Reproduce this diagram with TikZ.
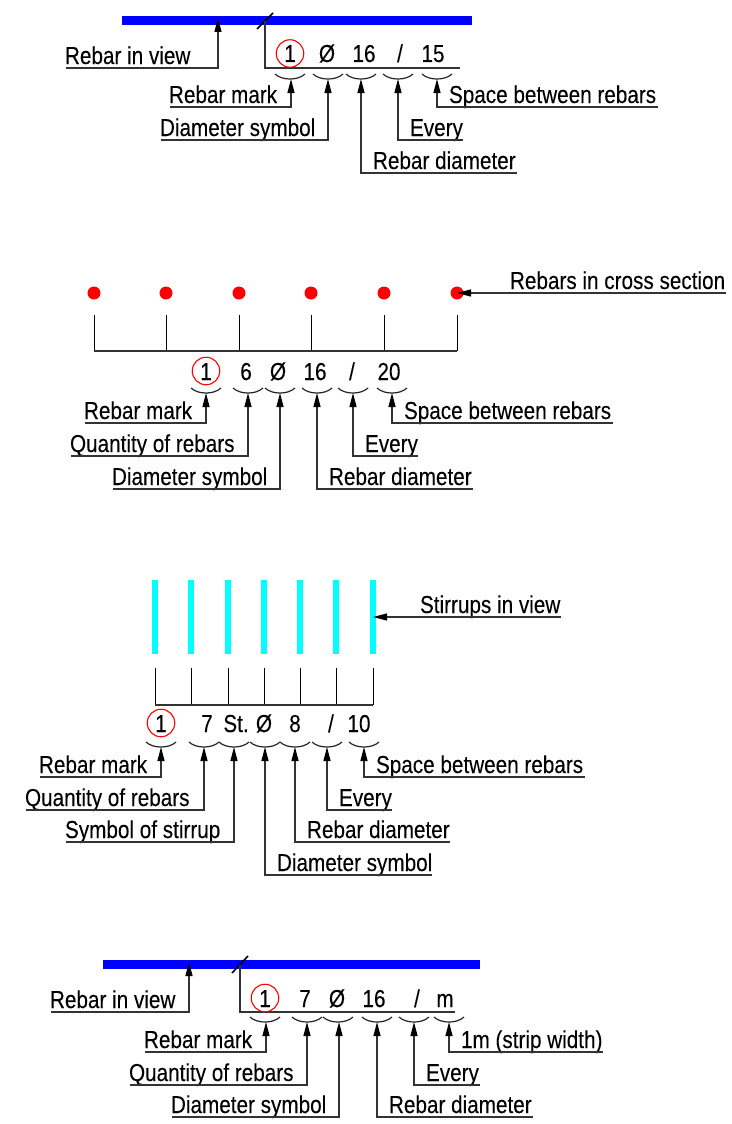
\documentclass[tikz,border=0pt]{standalone}
\usepackage{fontspec}
\setmainfont[FakeStretch=0.845,FakeBold=0.05]{Liberation Sans}
\usetikzlibrary{arrows.meta}
\definecolor{stirrupcyan}{rgb}{0,1,1}
\tikzset{
  lbl/.style={anchor=base west,inner sep=0pt,outer sep=0pt,font=\fontsize{24.5}{26}\selectfont,text=black},
  sym/.style={anchor=base,inner sep=0pt,outer sep=0pt,font=\fontsize{24.5}{26}\selectfont,text=black},
  leader/.style={draw=black!80,line width=1.3pt,-{Triangle[length=14pt,width=7pt,color=black]}},
  refline/.style={draw=black!80,line width=1.3pt},
  thin line/.style={draw=black,line width=1pt},
  brace/.style={draw=black!85,line width=1.2pt},
  mark circle/.style={circle,draw=red,line width=1.1pt,minimum size=27.5pt,inner sep=0pt,fill=none},
  bar/.style={draw=none,fill=blue},
  dot/.style={circle,fill=red,draw=none,minimum size=13pt,inner sep=0pt},
  stirrup/.style={draw=none,fill=stirrupcyan},
}
% name, text, text x, free end x, y, tip x, tip y
\newcommand{\lead}[7]{%
  \node[lbl] (#1) at (#3,#5-4) {#2};
  \coordinate (#1-a) at (#4,#5);
  \coordinate (#1-b) at (#6,#5);
  \coordinate (#1-t) at (#6,#7);
  \draw[leader] (#1-a) -- (#1-b) -- (#1-t);
}
% name, text, text x, line y, free end x, tip coordinate
\newcommand{\leadh}[6]{%
  \node[lbl] (#1) at (#3,#4-4) {#2};
  \coordinate (#1-a) at (#5,#4);
  \draw[leader] (#1-a) -- (#6);
}
\newcommand{\brc}[2]{\draw[brace] (#1-15,#2) .. controls (#1-8,#2+6.7) and (#1+8,#2+6.7) .. (#1+15,#2);}
\newcommand{\sym}[3]{\node[sym] at (#1,#2) {#3};}
\begin{document}
\begin{tikzpicture}[x=1pt,y=-1pt]
\useasboundingbox (0,0) rectangle (731,1124);
\fill[white] (0,0) rectangle (731,1124);

% ---- Section 1
\fill[bar] (122,16) rectangle (472,25);
\coordinate (t1a) at (257,29); \coordinate (t1b) at (273,13);
\draw[thin line,line width=1.6pt] (t1a) -- (t1b);
\coordinate (r1a) at (265,21); \coordinate (r1b) at (265,68); \coordinate (r1c) at (460,68);
\draw[refline] (r1a) -- (r1b) -- (r1c);
\node[mark circle] (c1) at (290,53.5) {};
\sym{290}{62}{1}\sym{327}{62}{Ø}\sym{364}{62}{16}\sym{400}{62}{/}\sym{433}{62}{15}
\brc{290}{74}\brc{328}{74}\brc{361}{74}\brc{398}{74}\brc{437}{74}
\lead{a1}{Rebar in view}{65}{66}{68}{218}{18}
\lead{a2}{Rebar mark}{169}{170}{107}{291}{79}
\lead{a3}{Diameter symbol}{160}{161}{140}{328}{79}
\lead{a4}{Rebar diameter}{373}{517}{173}{361}{79}
\lead{a5}{Every}{410}{463}{140}{398}{79}
\lead{a6}{Space between rebars}{449}{658}{107}{437}{79}

% ---- Section 2
\foreach \n/\x in {1/94,2/166,3/239,4/311,5/384,6/457}{
  \node[dot] (d\n) at (\x,293) {};
  \coordinate (v\n) at (\x,315);
  \coordinate (w\n) at (\x,351);
  \draw[thin line] (v\n) -- (w\n);
}
\draw[refline] (w1) -- (w6);
\node[mark circle] (c2) at (206,371) {};
\sym{206}{380}{1}\sym{246}{380}{6}\sym{278}{380}{Ø}\sym{315}{380}{16}\sym{352}{380}{/}\sym{389}{380}{20}
\brc{206}{388}\brc{248}{388}\brc{280}{388}\brc{317}{388}\brc{353}{388}\brc{392}{388}
\lead{b1}{Rebar mark}{84}{85}{423}{206}{393}
\lead{b2}{Quantity of rebars}{70}{71}{456}{248}{393}
\lead{b3}{Diameter symbol}{112}{113}{489}{280}{393}
\lead{b4}{Rebar diameter}{329}{473}{489}{317}{393}
\lead{b5}{Every}{365}{418}{456}{353}{393}
\lead{b6}{Space between rebars}{404}{613}{423}{392}{393}
\leadh{b7}{Rebars in cross section}{510}{293}{726}{d6.center}

% ---- Section 3
\foreach \n/\x in {1/155,2/191,3/228,4/264,5/300,6/336,7/373}{
  \fill[stirrup] (\x-3,580) rectangle (\x+3,654);
  \coordinate (p\n) at (\x,668);
  \coordinate (q\n) at (\x,705);
  \draw[thin line] (p\n) -- (q\n);
}
\draw[refline] (q1) -- (q7);
\node[mark circle] (c3) at (161,723) {};
\sym{161}{732}{1}\sym{207}{732}{7}\sym{236}{732}{St.}\sym{264}{732}{Ø}\sym{295}{732}{8}\sym{331}{732}{/}\sym{359}{732}{10}
\brc{161}{742}\brc{204}{742}\brc{234}{742}\brc{265}{742}\brc{295}{742}\brc{327}{742}\brc{364}{742}
\lead{e1}{Rebar mark}{39}{40}{777}{161}{747}
\lead{e2}{Quantity of rebars}{25}{26}{810}{204}{747}
\lead{e3}{Symbol of stirrup}{65}{66}{842}{234}{747}
\lead{e4}{Diameter symbol}{277}{432}{875}{265}{747}
\lead{e5}{Rebar diameter}{307}{450}{842}{295}{747}
\lead{e6}{Every}{339}{392}{810}{327}{747}
\lead{e7}{Space between rebars}{376}{585}{777}{364}{747}
\coordinate (e8-s) at (373,617);
\leadh{e8}{Stirrups in view}{420}{617}{561}{e8-s}

% ---- Section 4
\fill[bar] (103,960) rectangle (480,969);
\coordinate (t4a) at (232,973); \coordinate (t4b) at (248,956);
\draw[thin line,line width=1.6pt] (t4a) -- (t4b);
\coordinate (r4a) at (240,965); \coordinate (r4b) at (240,1012); \coordinate (r4c) at (455,1012);
\draw[refline] (r4a) -- (r4b) -- (r4c);
\node[mark circle] (c4) at (265,998) {};
\sym{265}{1007}{1}\sym{305}{1007}{7}\sym{337}{1007}{Ø}\sym{374}{1007}{16}\sym{417}{1007}{/}\sym{445}{1007}{m}
\brc{265}{1017}\brc{307}{1017}\brc{338}{1017}\brc{377}{1017}\brc{414}{1017}\brc{449}{1017}
\lead{f1}{Rebar in view}{50}{51}{1012}{189}{962}
\lead{f2}{Rebar mark}{144}{145}{1052}{266}{1022}
\lead{f3}{Quantity of rebars}{129}{130}{1085}{307}{1022}
\lead{f4}{Diameter symbol}{171}{172}{1117}{339}{1022}
\lead{f5}{Rebar diameter}{389}{533}{1117}{377}{1022}
\lead{f6}{Every}{426}{480}{1085}{414}{1022}
\lead{f7}{1m (strip width)}{461}{603}{1052}{449}{1022}
\end{tikzpicture}
\end{document}
